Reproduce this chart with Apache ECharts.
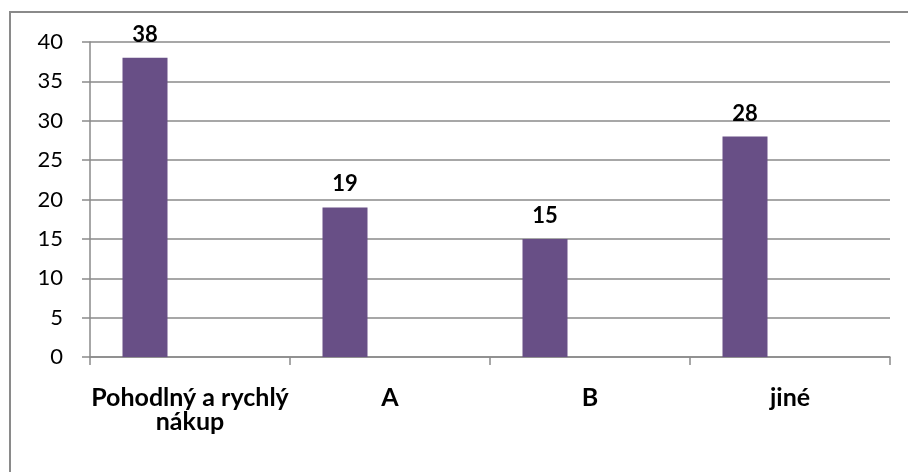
<!DOCTYPE html>
<html>
<head>
<meta charset="utf-8">
<style>
  html, body { margin: 0; padding: 0; background: #ffffff; }
  #chart { width: 908px; height: 472px; }
</style>
<script src="https://cdn.jsdelivr.net/npm/echarts@6/dist/echarts.min.js"></script>
</head>
<body>
<div id="chart"></div>
<script>
// Categories along the x axis
const categories = ['Pohodlný a rychlý\nnákup', 'A', 'B', 'jiné'];
// Counts per category
const values = [38, 19, 15, 28];
// Y axis range and step
const yMin = 0;
const yMax = 40;
const yStep = 5;

const FONT = 'Lato, "Open Sans", sans-serif';
const GRID_COLOR = '#8a8a8a';
const BAR_COLOR = '#684f86';

const chart = echarts.init(document.getElementById('chart'), null, { renderer: 'canvas' });

// Two empty companion series keep the single bar in the left third of each slot
const emptySeries = () => ({
  type: 'bar',
  data: categories.map(() => null),
  barWidth: 45,
  barGap: '0%',
  silent: true
});

chart.setOption({
  animation: false,
  backgroundColor: '#ffffff',
  graphic: [{
    type: 'rect',
    shape: { x: 10, y: 12, width: 920, height: 480 },
    style: { fill: 'none', stroke: '#8a8a8a', lineWidth: 2 },
    silent: true,
    z: 0
  }],
  grid: { left: 90, right: 18, top: 42, bottom: 115, containLabel: false },
  xAxis: {
    type: 'category',
    data: categories,
    axisLine: { show: true, lineStyle: { color: GRID_COLOR, width: 1.5 } },
    axisTick: { show: true, length: 8, alignWithLabel: false, lineStyle: { color: GRID_COLOR, width: 1.5 } },
    axisLabel: {
      interval: 0,
      margin: 29,
      color: '#000000',
      fontFamily: FONT,
      fontWeight: 'bold',
      fontSize: 25,
      lineHeight: 24,
      align: 'center'
    },
    splitLine: { show: false }
  },
  yAxis: {
    type: 'value',
    min: yMin,
    max: yMax,
    interval: yStep,
    axisLine: { show: true, lineStyle: { color: GRID_COLOR, width: 1.5 } },
    axisTick: { show: true, length: 8, lineStyle: { color: GRID_COLOR, width: 1.5 } },
    axisLabel: {
      margin: 27,
      color: '#000000',
      fontFamily: FONT,
      fontSize: 22
    },
    splitLine: { show: true, lineStyle: { color: GRID_COLOR, width: 1.5 } }
  },
  series: [
    {
      type: 'bar',
      data: values,
      barWidth: 45,
      barGap: '0%',
      itemStyle: { color: BAR_COLOR },
      label: {
        show: true,
        position: 'top',
        distance: 12,
        color: '#000000',
        fontFamily: FONT,
        fontWeight: 'bold',
        fontSize: 22
      }
    },
    emptySeries(),
    emptySeries()
  ]
});
</script>
</body>
</html>
